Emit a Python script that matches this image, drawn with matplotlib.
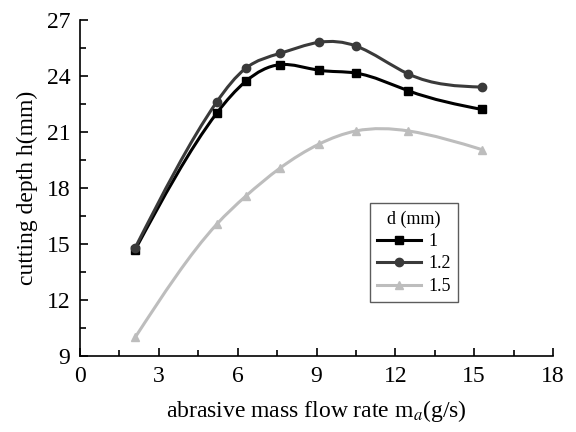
import matplotlib
matplotlib.use('Agg')
import matplotlib.pyplot as plt
import numpy as np
from matplotlib.path import Path
from matplotlib.patches import PathPatch

# data
flow_rate = [2.1, 5.2, 6.3, 7.6, 9.1, 10.5, 12.5, 15.3]
depth_d1 = [14.7, 22.0, 23.7, 24.6, 24.3, 24.15, 23.2, 22.2]
depth_d12 = [14.8, 22.6, 24.4, 25.2, 25.8, 25.6, 24.1, 23.4]
depth_d15 = [10.0, 16.05, 17.55, 19.05, 20.35, 21.05, 21.05, 20.05]
labels = ['1', '1.2', '1.5']

plt.rcParams['font.family'] = 'Liberation Serif'
plt.rcParams['mathtext.fontset'] = 'stix'


def smooth_path(xs, ys):
    # natural cubic spline through the points, drawn as bezier segments
    x = np.asarray(xs, float)
    y = np.asarray(ys, float)
    n = len(x)
    h = np.diff(x)
    A = np.zeros((n, n))
    b = np.zeros(n)
    A[0, 0] = A[-1, -1] = 1.0
    for i in range(1, n - 1):
        A[i, i - 1] = h[i - 1]
        A[i, i] = 2 * (h[i - 1] + h[i])
        A[i, i + 1] = h[i]
        b[i] = 6 * ((y[i + 1] - y[i]) / h[i] - (y[i] - y[i - 1]) / h[i - 1])
    M = np.linalg.solve(A, b)
    slope = np.zeros(n)
    for i in range(n - 1):
        slope[i] = (y[i + 1] - y[i]) / h[i] - h[i] * (2 * M[i] + M[i + 1]) / 6
    slope[-1] = (y[-1] - y[-2]) / h[-1] + h[-1] * (M[-2] + 2 * M[-1]) / 6

    verts = [(x[0], y[0])]
    codes = [Path.MOVETO]
    for i in range(n - 1):
        d = h[i] / 3
        verts += [(x[i] + d, y[i] + slope[i] * d),
                  (x[i + 1] - d, y[i + 1] - slope[i + 1] * d),
                  (x[i + 1], y[i + 1])]
        codes += [Path.CURVE4] * 3
    return Path(verts, codes)


fig = plt.figure(figsize=(5.76, 4.32), dpi=100)
ax = fig.add_axes([0.139, 0.176, 0.821, 0.778])

series = [
    (depth_d1, '#000000', 's', 6),
    (depth_d12, '#3a3a3a', 'o', 6),
    (depth_d15, '#bdbdbd', '^', 6),
]

for (ys, color, marker, ms), lab in zip(series, labels):
    ax.add_patch(PathPatch(smooth_path(flow_rate, ys), fill=False,
                           edgecolor=color, lw=2.2, transform=ax.transData))
    ax.plot(flow_rate, ys, ls='none', marker=marker, ms=ms, color=color)
    ax.plot([], [], color=color, lw=2.2, marker=marker, ms=ms, label=lab)

ax.set_xlim(0, 18)
ax.set_ylim(9, 27)
ax.set_xticks(np.arange(0, 19, 3))
ax.set_yticks(np.arange(9, 28, 3))
ax.set_xticks(np.arange(1.5, 18, 3), minor=True)
ax.set_yticks(np.arange(10.5, 27, 3), minor=True)
ax.spines['top'].set_visible(False)
ax.spines['right'].set_visible(False)
for sp in ax.spines.values():
    sp.set_linewidth(1.2)
ax.tick_params(axis='both', which='major', direction='in', length=6,
               width=1.2, labelsize=17, pad=7)
ax.tick_params(axis='both', which='minor', direction='in', length=4,
               width=1.2)

ax.set_xlabel(r'abrasive mass flow rate m$_{\mathit{a}}$(g/s)', fontsize=17,
              labelpad=8)
ax.set_ylabel('cutting depth h(mm)', fontsize=17, labelpad=6)

leg = ax.legend(title='d (mm)', loc='upper left',
                bbox_to_anchor=(0.613, 0.455), borderaxespad=0,
                fontsize=13, title_fontsize=13,
                frameon=True, fancybox=False, handlelength=2.4,
                handletextpad=0.45, labelspacing=0.3, borderpad=0.4)
leg.get_frame().set_edgecolor('#333333')
leg.get_frame().set_linewidth(1.0)

fig.savefig('out.png', dpi=100)
